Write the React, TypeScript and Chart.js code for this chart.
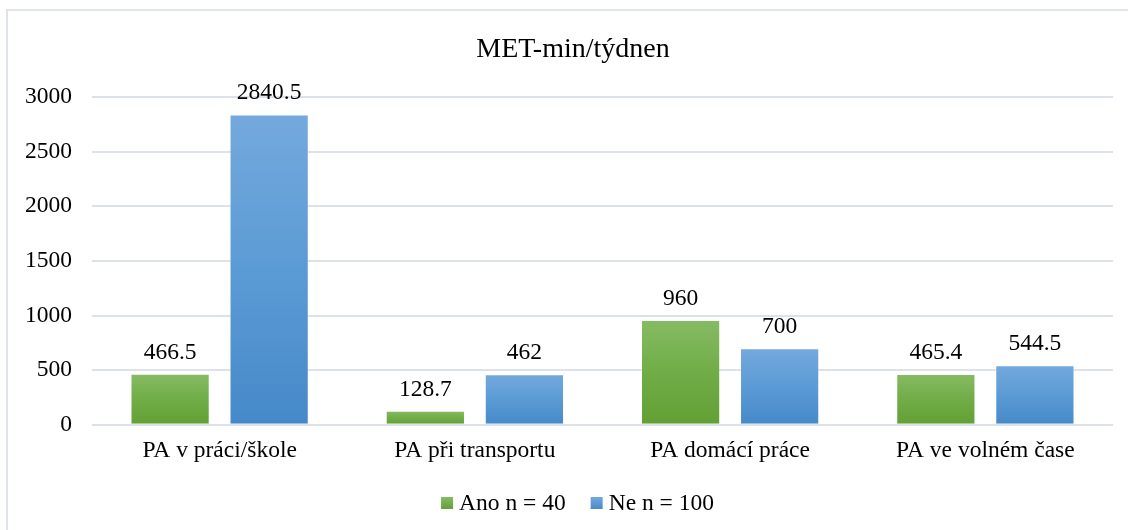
import React, { useEffect, useRef } from 'react';
import { Chart, registerables } from 'chart.js';

Chart.register(...registerables);

const chartTitle = 'MET-min/týdnen';
const categories = ['PA v práci/škole', 'PA při transportu', 'PA domácí práce', 'PA ve volném čase'];
const seriesNames = ['Ano n = 40', 'Ne n = 100'];
const anoValues = [466.5, 128.7, 960, 465.4];
const neValues = [2840.5, 462, 700, 544.5];
const yTickValues = [0, 500, 1000, 1500, 2000, 2500, 3000];

const FONT = '"Liberation Serif", "Times New Roman", serif';
const TEXT_SIZE = 23.5;

const greenStops = ['#86bb63', '#70ad47', '#62a035'];
const blueStops = ['#74a9dd', '#5b9bd5', '#4689c9'];

function gradientFill(stops: string[]) {
  return (ctx: any) => {
    const chart = ctx.chart;
    const y = chart.scales && chart.scales.y;
    if (!y || ctx.type !== 'data' || ctx.raw == null) return stops[1];
    const top = y.getPixelForValue(ctx.raw);
    const bottom = y.getPixelForValue(0);
    if (!isFinite(top) || !isFinite(bottom) || top === bottom) return stops[1];
    const g = chart.ctx.createLinearGradient(0, top, 0, bottom);
    g.addColorStop(0, stops[0]);
    g.addColorStop(0.5, stops[1]);
    g.addColorStop(1, stops[2]);
    return g;
  };
}

const overlayPlugin = {
  id: 'overlay',
  afterDraw(chart: any) {
    const { ctx } = chart;
    ctx.save();
    ctx.fillStyle = '#000';
    // title
    ctx.font = `28px ${FONT}`;
    ctx.textAlign = 'center';
    ctx.textBaseline = 'alphabetic';
    ctx.fillText(chartTitle, 573, 57);
    // value labels
    ctx.font = `${TEXT_SIZE}px ${FONT}`;
    chart.data.datasets.forEach((ds: any, i: number) => {
      const meta = chart.getDatasetMeta(i);
      meta.data.forEach((bar: any, j: number) => {
        ctx.fillText(String(ds.data[j]), bar.x, bar.y - 15);
      });
    });
    // legend
    const colors = [greenStops, blueStops];
    const box = 12;
    const gap = 6;
    const spacing = 25;
    const widths = seriesNames.map((n) => ctx.measureText(n).width);
    const total = widths.reduce((a, w) => a + box + gap + w, 0) + spacing * (seriesNames.length - 1);
    let x = 577.5 - total / 2;
    ctx.textAlign = 'left';
    seriesNames.forEach((name, i) => {
      const g = ctx.createLinearGradient(0, 497, 0, 509);
      g.addColorStop(0, colors[i][0]);
      g.addColorStop(1, colors[i][2]);
      ctx.fillStyle = g;
      ctx.fillRect(x, 497, box, box);
      x += box + gap;
      ctx.fillStyle = '#000';
      ctx.fillText(name, x, 510);
      x += widths[i] + spacing;
    });
    ctx.restore();
  },
};

export default function App() {
  const canvasRef = useRef<HTMLCanvasElement | null>(null);

  useEffect(() => {
    if (!canvasRef.current) return;
    const chart = new Chart(canvasRef.current, {
      type: 'bar',
      data: {
        labels: categories,
        datasets: [
          {
            label: seriesNames[0],
            data: anoValues,
            backgroundColor: gradientFill(greenStops),
            borderColor: 'rgba(255,255,255,0.25)',
            borderWidth: 1,
            categoryPercentage: 0.776,
            barPercentage: 0.8,
          },
          {
            label: seriesNames[1],
            data: neValues,
            backgroundColor: gradientFill(blueStops),
            borderColor: 'rgba(255,255,255,0.25)',
            borderWidth: 1,
            categoryPercentage: 0.776,
            barPercentage: 0.8,
          },
        ],
      },
      options: {
        animation: false,
        responsive: false,
        maintainAspectRatio: false,
        layout: { padding: { top: 97, left: 5, right: 15, bottom: 53 } },
        plugins: {
          legend: { display: false },
          title: { display: false },
          tooltip: { enabled: false },
        },
        scales: {
          x: {
            grid: { display: false, drawTicks: false },
            border: { display: false },
            ticks: {
              color: '#000',
              padding: 12,
              font: { family: FONT, size: TEXT_SIZE },
              maxRotation: 0,
              autoSkip: false,
            },
          },
          y: {
            min: 0,
            max: 3000,
            afterBuildTicks: (scale: any) => {
              scale.ticks = yTickValues.map((v) => ({ value: v }));
            },
            grid: { color: '#dde1e8', lineWidth: 2, drawTicks: false },
            border: { display: false },
            ticks: {
              color: '#000',
              padding: 20,
              font: { family: FONT, size: TEXT_SIZE },
              callback: (v: any) => String(v),
            },
          },
        },
      },
      plugins: [overlayPlugin],
    });
    return () => chart.destroy();
  }, []);

  return (
    <div style={{ position: 'absolute', left: 0, top: 0, width: 1128, height: 530, overflow: 'hidden', background: '#fff' }}>
      <div
        style={{
          position: 'absolute',
          left: 6,
          top: 9,
          width: 1140,
          height: 540,
          border: '2px solid #dfe3ea',
          boxSizing: 'border-box',
        }}
      />
      <canvas ref={canvasRef} width={1128} height={530} style={{ position: 'absolute', left: 0, top: 0, display: 'block' }} />
    </div>
  );
}
